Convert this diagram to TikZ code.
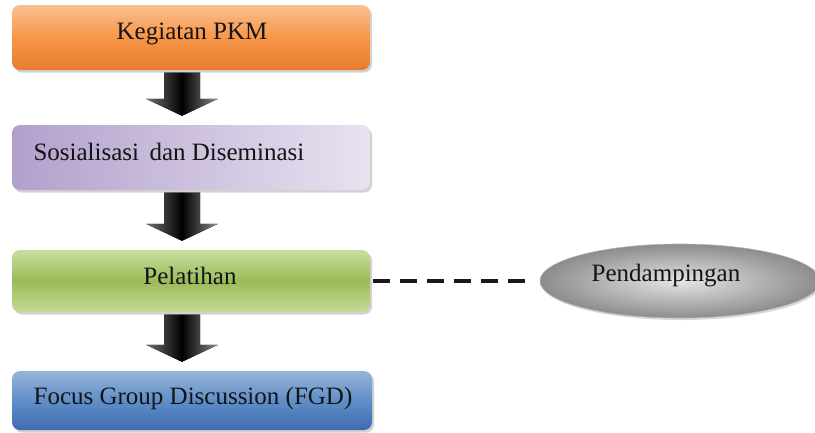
\documentclass[tikz,border=0pt]{standalone}
\usepackage{fontspec}
\setmainfont{Liberation Serif}
\usetikzlibrary{shapes.geometric,shadows,calc}
\definecolor{orA}{RGB}{250,192,146}
\definecolor{orB}{RGB}{247,150,70}
\definecolor{orC}{RGB}{232,124,48}
\definecolor{puA}{RGB}{178,160,204}
\definecolor{puB}{RGB}{232,226,240}
\definecolor{grA}{RGB}{200,222,160}
\definecolor{grB}{RGB}{155,187,89}
\definecolor{grC}{RGB}{196,218,152}
\definecolor{blA}{RGB}{150,180,216}
\definecolor{blB}{RGB}{96,142,200}
\definecolor{blC}{RGB}{62,108,176}
\tikzset{
  boxstyle/.style={rectangle, rounded corners=8pt, minimum width=358pt, draw=none,
    drop shadow={shadow xshift=2pt, shadow yshift=-2.5pt, opacity=.35}},
  txt/.style={font=\fontsize{25}{28}\selectfont, text=black!92},
  arrowshade/.style={left color=black!55, right color=black!45, middle color=black},
}
\newcommand\blockarr[2]{%
  \fill[arrowshade] let \p1=($(#1.south)+(-9,0)$), \p2=($(#2.north)+(-9,0)$) in
    (\x1-18pt,\y1-2.5pt) -- (\x1+18pt,\y1-2.5pt) -- (\x1+18pt,\y2+26pt) --
    (\x1+36pt,\y2+26pt) -- (\x1,\y2+9pt) -- (\x1-36pt,\y2+26pt) --
    (\x1-18pt,\y2+26pt) -- cycle;}
\begin{document}
\begin{tikzpicture}[x=1pt,y=-1pt]
\fill[white] (0,0) rectangle (815,432);
\useasboundingbox (0,0) rectangle (815,432);

\node[boxstyle, minimum height=65pt, top color=orA, bottom color=orC, middle color=orB] (b1) at (191,37.5) {};
\node[boxstyle, minimum height=65pt, shading angle=60, left color=puA, right color=puB] (b2) at (191,157.5) {};
\node[boxstyle, minimum height=62pt, top color=grA, bottom color=grC, middle color=grB] (b3) at (191,281) {};
\node[boxstyle, minimum height=59pt, minimum width=360pt, top color=blA, bottom color=blC, middle color=blB] (b4) at (192,400.5) {};

\node[txt] (t1) at (192,34) {Kegiatan PKM};
\node[txt, anchor=west] (t2) at (30,152) {Sosialisasi\, dan Diseminasi};
\node[txt] (t3) at (190,276) {Pelatihan};
\node[txt] (t4) at (193,398) {Focus Group Discussion (FGD)};

\blockarr{b1}{b2}
\blockarr{b2}{b3}
\blockarr{b3}{b4}

\node[ellipse, minimum width=280pt, minimum height=74pt, draw=black!30, line width=0.6pt,
  inner color=black!10, outer color=black!45,
  drop shadow={shadow xshift=1.5pt, shadow yshift=-2pt, opacity=.3}] (e) at (680,281) {};
\node[txt] (te) at (666,276) {Pendampingan};

\draw[line width=4pt, dash pattern=on 17pt off 10pt, black!90, shorten <=3pt, shorten >=8pt] (b3.east) -- (e.west);
\end{tikzpicture}
\end{document}
